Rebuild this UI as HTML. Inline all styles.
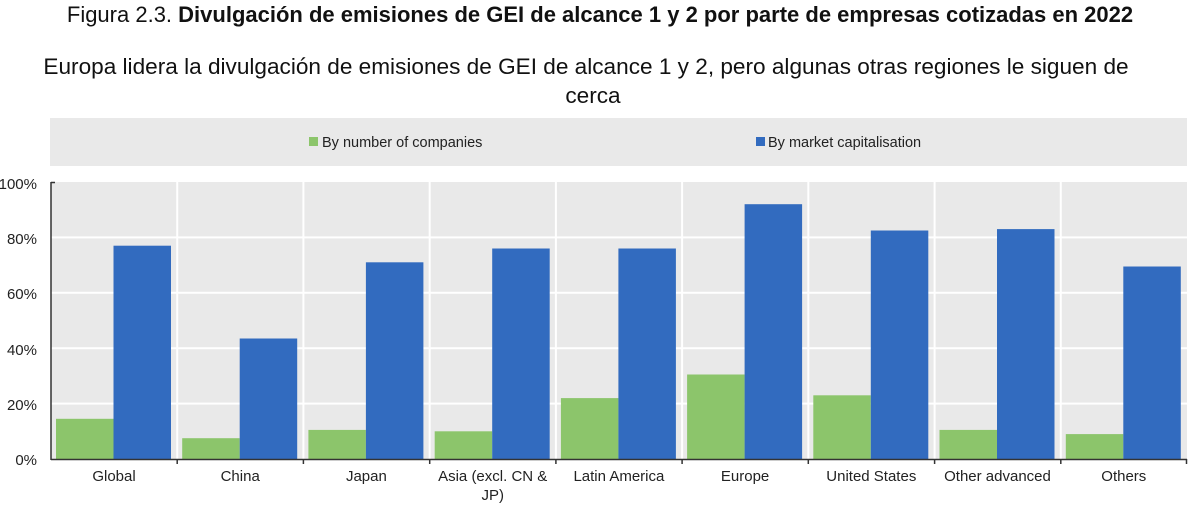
<!DOCTYPE html><html><head><meta charset="utf-8"><style>
body{margin:0;width:1200px;height:507px;background:#fff;font-family:"Liberation Sans",sans-serif;overflow:hidden}
</style></head><body>
<svg width="1200" height="507" xmlns="http://www.w3.org/2000/svg" font-family="Liberation Sans, sans-serif">
<text x="600" y="22" text-anchor="middle" font-size="22" fill="#111">Figura 2.3. <tspan font-weight="bold">Divulgación de emisiones de GEI de alcance 1 y 2 por parte de empresas cotizadas en 2022</tspan></text>
<text x="586" y="74" text-anchor="middle" font-size="22.6" fill="#111">Europa lidera la divulgación de emisiones de GEI de alcance 1 y 2, pero algunas otras regiones le siguen de</text>
<text x="593" y="103" text-anchor="middle" font-size="22.6" fill="#111">cerca</text>
<rect x="50" y="118" width="1137" height="48" fill="#e9e9e9"/>
<rect x="309" y="137" width="9" height="9" fill="#8cc56b"/>
<text x="322" y="147" font-size="14.5" fill="#222">By number of companies</text>
<rect x="756" y="137" width="9" height="9" fill="#326bbf"/>
<text x="768" y="147" font-size="14.5" fill="#222">By market capitalisation</text>
<rect x="51" y="182" width="1136" height="277" fill="#e9e9e9"/>
<g stroke="#fff" stroke-width="2">
<line x1="51" x2="1187" y1="237.4" y2="237.4"/><line x1="51" x2="1187" y1="292.8" y2="292.8"/><line x1="51" x2="1187" y1="348.2" y2="348.2"/><line x1="51" x2="1187" y1="403.6" y2="403.6"/>
<line x1="177.2" x2="177.2" y1="182" y2="459"/><line x1="303.4" x2="303.4" y1="182" y2="459"/><line x1="429.7" x2="429.7" y1="182" y2="459"/><line x1="555.9" x2="555.9" y1="182" y2="459"/><line x1="682.1" x2="682.1" y1="182" y2="459"/><line x1="808.3" x2="808.3" y1="182" y2="459"/><line x1="934.6" x2="934.6" y1="182" y2="459"/><line x1="1060.8" x2="1060.8" y1="182" y2="459"/>
</g>
<g fill="#8cc56b">
<rect x="56" y="418.8" width="57.5" height="40.2"/>
<rect x="182.2" y="438.2" width="57.5" height="20.8"/>
<rect x="308.4" y="429.9" width="57.5" height="29.1"/>
<rect x="434.7" y="431.3" width="57.5" height="27.7"/>
<rect x="560.9" y="398.1" width="57.5" height="60.9"/>
<rect x="687.1" y="374.5" width="57.5" height="84.5"/>
<rect x="813.3" y="395.3" width="57.5" height="63.7"/>
<rect x="939.5" y="429.9" width="57.5" height="29.1"/>
<rect x="1065.8" y="434.1" width="57.5" height="24.9"/>
</g>
<g fill="#326bbf">
<rect x="113.5" y="245.7" width="57.5" height="213.3"/>
<rect x="239.7" y="338.5" width="57.5" height="120.5"/>
<rect x="365.9" y="262.3" width="57.5" height="196.7"/>
<rect x="492.2" y="248.5" width="57.5" height="210.5"/>
<rect x="618.4" y="248.5" width="57.5" height="210.5"/>
<rect x="744.6" y="204.2" width="57.5" height="254.8"/>
<rect x="870.8" y="230.5" width="57.5" height="228.5"/>
<rect x="997" y="229.1" width="57.5" height="229.9"/>
<rect x="1123.3" y="266.5" width="57.5" height="192.5"/>
</g>
<g stroke="#333" stroke-width="1.5"><line x1="51" y1="182" x2="51" y2="460"/><line x1="51" y1="459.5" x2="1187" y2="459.5"/><line x1="51" y1="182.5" x2="55" y2="182.5"/>
<line x1="177.2" x2="177.2" y1="459" y2="464"/><line x1="303.4" x2="303.4" y1="459" y2="464"/><line x1="429.7" x2="429.7" y1="459" y2="464"/><line x1="555.9" x2="555.9" y1="459" y2="464"/><line x1="682.1" x2="682.1" y1="459" y2="464"/><line x1="808.3" x2="808.3" y1="459" y2="464"/><line x1="934.6" x2="934.6" y1="459" y2="464"/><line x1="1060.8" x2="1060.8" y1="459" y2="464"/><line x1="1186.5" x2="1186.5" y1="459" y2="464"/>
</g>
<g font-size="15" fill="#222" text-anchor="end">
<text x="37" y="189">100%</text><text x="37" y="244">80%</text><text x="37" y="299">60%</text><text x="37" y="355">40%</text><text x="37" y="410">20%</text><text x="37" y="465">0%</text>
</g>
<g font-size="15" fill="#222" text-anchor="middle">
<text x="114" y="481">Global</text>
<text x="240.2" y="481">China</text>
<text x="366.4" y="481">Japan</text>
<text x="492.7" y="481">Asia (excl. CN &amp;</text>
<text x="492.7" y="500">JP)</text>
<text x="618.9" y="481">Latin America</text>
<text x="745.1" y="481">Europe</text>
<text x="871.3" y="481">United States</text>
<text x="997.5" y="481">Other advanced</text>
<text x="1123.8" y="481">Others</text>
</g>
</svg>
</body></html>
